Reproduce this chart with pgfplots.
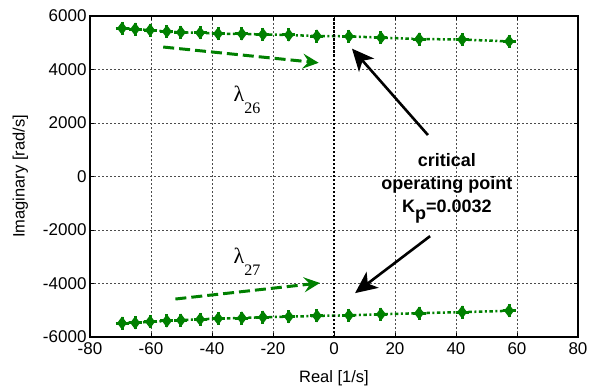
\documentclass[border=0pt]{standalone}
\usepackage{pgfplots}
\pgfplotsset{compat=1.18}
\usepackage{pgfplotstable}
\usepackage{fontspec}
\setmainfont{Liberation Sans}
\newfontfamily\seriffont{Liberation Serif}
\usetikzlibrary{arrows.meta}
\definecolor{mgreen}{RGB}{0,128,0}
\pgfplotstableread{
x y
-69.5 5540
-65.2 5510
-60.3 5470
-54.8 5420
-50.2 5390
-43.9 5370
-38 5340
-30.2 5330
-23.3 5310
-14.8 5290
-5.6 5250
4.9 5240
15.4 5190
27.9 5140
42 5120
57.4 5050
}\uppertab
\pgfplotstableread{
x y
-69.5 -5480
-65.2 -5470
-60.3 -5430
-54.8 -5400
-50.2 -5370
-43.9 -5340
-38 -5310
-30.2 -5290
-23.3 -5260
-14.8 -5240
-5.6 -5210
4.9 -5190
15.4 -5150
27.9 -5110
42 -5070
57.4 -5020
}\lowertab
\begin{document}
\begin{tikzpicture}
\begin{axis}[name=ax,
  scale only axis, width=488pt, height=321pt,
  xmin=-80, xmax=80, ymin=-6000, ymax=6000,
  xtick={-80,-60,...,80}, ytick={-6000,-4000,...,6000},
  grid=major, major grid style={dash pattern=on 2pt off 2pt, gray!60!black, line width=0.6pt},
  axis line style={line width=1.2pt},
  tick style={black, line width=0.6pt}, major tick length=4pt,
  tick label style={font=\fontsize{17}{19}\selectfont},
  xticklabel style={yshift=-2pt},
  /pgf/number format/assume math mode=true,
  /pgf/number format/1000 sep={},
  scaled ticks=false,
  xlabel={Real [1/s]}, ylabel={Imaginary [rad/s]},
  label style={font=\fontsize{16.5}{18}\selectfont},
  xlabel style={yshift=-9pt}, ylabel style={yshift=8pt},
  clip=false]
\addplot[mgreen, line width=2.5pt, dash pattern=on 3.5pt off 2.5pt on 2pt off 2.5pt, mark=diamond*, mark size=4.5pt, mark options={solid}] table {\uppertab};
\addplot[mgreen, only marks, mark=+, mark size=6.5pt, line width=3pt] table {\uppertab};
\addplot[mgreen, line width=2.5pt, dash pattern=on 3.5pt off 2.5pt on 2pt off 2.5pt, mark=diamond*, mark size=4.5pt, mark options={solid}] table {\lowertab};
\addplot[mgreen, only marks, mark=+, mark size=6.5pt, line width=3pt] table {\lowertab};
\addplot[black, line width=2.5pt, dash pattern=on 2.5pt off 1.5pt] coordinates {(0,-6000) (0,6000)};
% green arrows
\draw[mgreen, line width=3pt, dash pattern=on 11pt off 5pt, -{Stealth[length=16pt,width=15pt,inset=6pt]}] (axis cs:-56,4840) -- (axis cs:-5,4250);
\draw[mgreen, line width=3pt, dash pattern=on 11pt off 5pt, -{Stealth[length=16pt,width=15pt,inset=6pt]}] (axis cs:-52,-4580) -- (axis cs:-4.6,-3980);
% black arrows
\draw[black, line width=2.6pt, -{Stealth[length=22pt,width=20pt,inset=6pt]}] (axis cs:30.8,1550) -- (axis cs:5.9,4780);
\draw[black, line width=2.6pt, -{Stealth[length=22pt,width=20pt,inset=6pt]}] (axis cs:31.5,-2230) -- (axis cs:6.9,-4360);
% labels
\node[font=\seriffont\fontsize{22}{22}\selectfont] at (axis cs:-28.5,2850) {λ\raisebox{-12pt}{\fontsize{16}{16}\selectfont 26}};
\node[font=\seriffont\fontsize{22}{22}\selectfont] at (axis cs:-28.5,-3200) {λ\raisebox{-12pt}{\fontsize{16}{16}\selectfont 27}};
\node[font=\bfseries\fontsize{18}{23}\selectfont, align=center] at (axis cs:37,-430) {critical\\operating point\\K\raisebox{-7pt}{p}=0.0032};
\end{axis}
\pgfresetboundingbox
\path[use as bounding box] ([shift={(-90pt,-49pt)}]ax.south west) rectangle ([shift={(22pt,16pt)}]ax.north east);
\end{tikzpicture}
\end{document}
